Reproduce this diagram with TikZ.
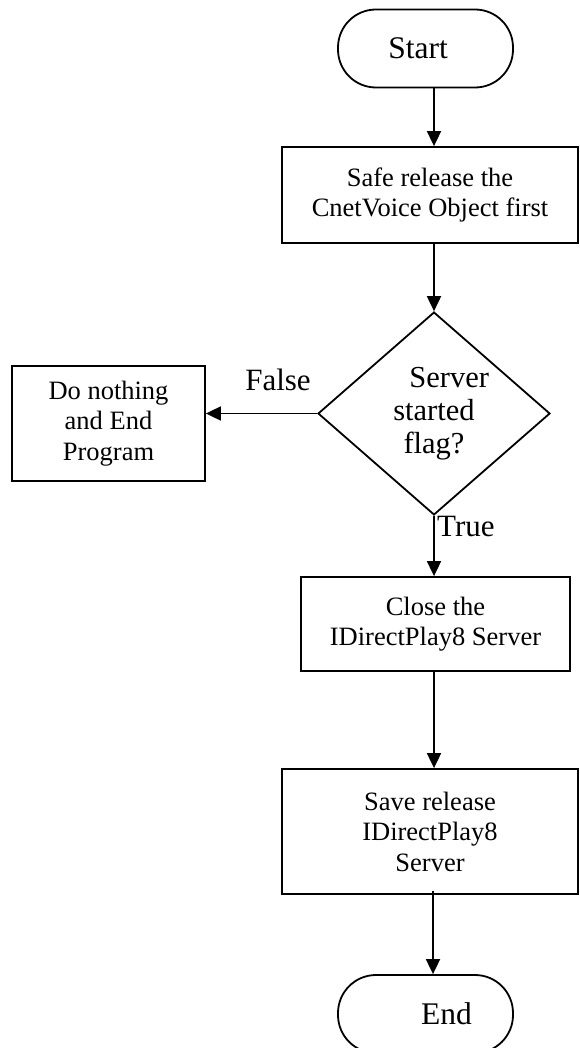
\documentclass[tikz,border=0pt]{standalone}
\usepackage{fontspec}
\setmainfont{Liberation Serif}
\usetikzlibrary{shapes.geometric,arrows.meta}
\tikzset{
  base/.style={draw=black, line width=1.8pt, inner sep=0pt, align=center},
  terminal/.style={base, rectangle, rounded corners=38pt,
    minimum width=175pt, minimum height=78pt,
    font=\fontsize{31.5}{34}\selectfont},
  stepbox/.style={base, rectangle,
    font=\fontsize{26.5}{30.5}\selectfont},
  decision/.style={base, diamond, minimum width=232pt, minimum height=173pt,
    font=\fontsize{30.5}{33}\selectfont},
  flowlabel/.style={inner sep=0pt, font=\fontsize{31}{34}\selectfont},
  arr/.style={line width=1.8pt, -{Triangle[length=15pt,width=14pt]}}
}
\begin{document}
\begin{tikzpicture}[x=1pt, y=-1pt]
  \useasboundingbox (0,0) rectangle (579,1048);

  % shapes of the flow
  \node[terminal] (start) at (425.5,48.5) {Start\hspace*{15pt}};
  \node[stepbox, minimum width=296pt, minimum height=96pt] (release) at (430,195)
    {Safe release the\\CnetVoice Object first};
  \node[decision] (flag) at (434,413.5) {\hspace*{1em}Server\\started\\flag?};
  \node[stepbox, minimum width=193pt, minimum height=115pt] (nothing) at (108.5,423.5)
    {Do nothing\\and End\\Program};
  \node[stepbox, minimum width=269pt, minimum height=94pt] (close) at (435.5,624)
    {Close the\\IDirectPlay8 Server};
  \node[stepbox, minimum width=296pt, minimum height=125pt] (save) at (430,831.5)
    {Save release\\IDirectPlay8\\Server};
  \node[terminal] (end) at (425.5,1014) {\hspace*{42pt}End};

  % connectors
  \draw[arr] (start.south -| flag.north) -- (release.north -| flag.north);
  \draw[arr] (release.south -| flag.north) -- (flag.north);
  \draw[arr] (flag.west) -- (nothing.east |- flag.west);
  \draw[arr] (flag.south) -- (close.north -| flag.south);
  \draw[arr] (close.south -| flag.south) -- (save.north -| flag.south);
  \draw[arr] ([xshift=-1pt,yshift=4pt]save.south -| flag.south) -- ([xshift=-1pt]end.north -| flag.south);

  % branch labels
  \node[flowlabel] (lfalse) at (278,380) {False};
  \node[flowlabel, anchor=west] (ltrue) at (437,526) {True};
\end{tikzpicture}
\end{document}
